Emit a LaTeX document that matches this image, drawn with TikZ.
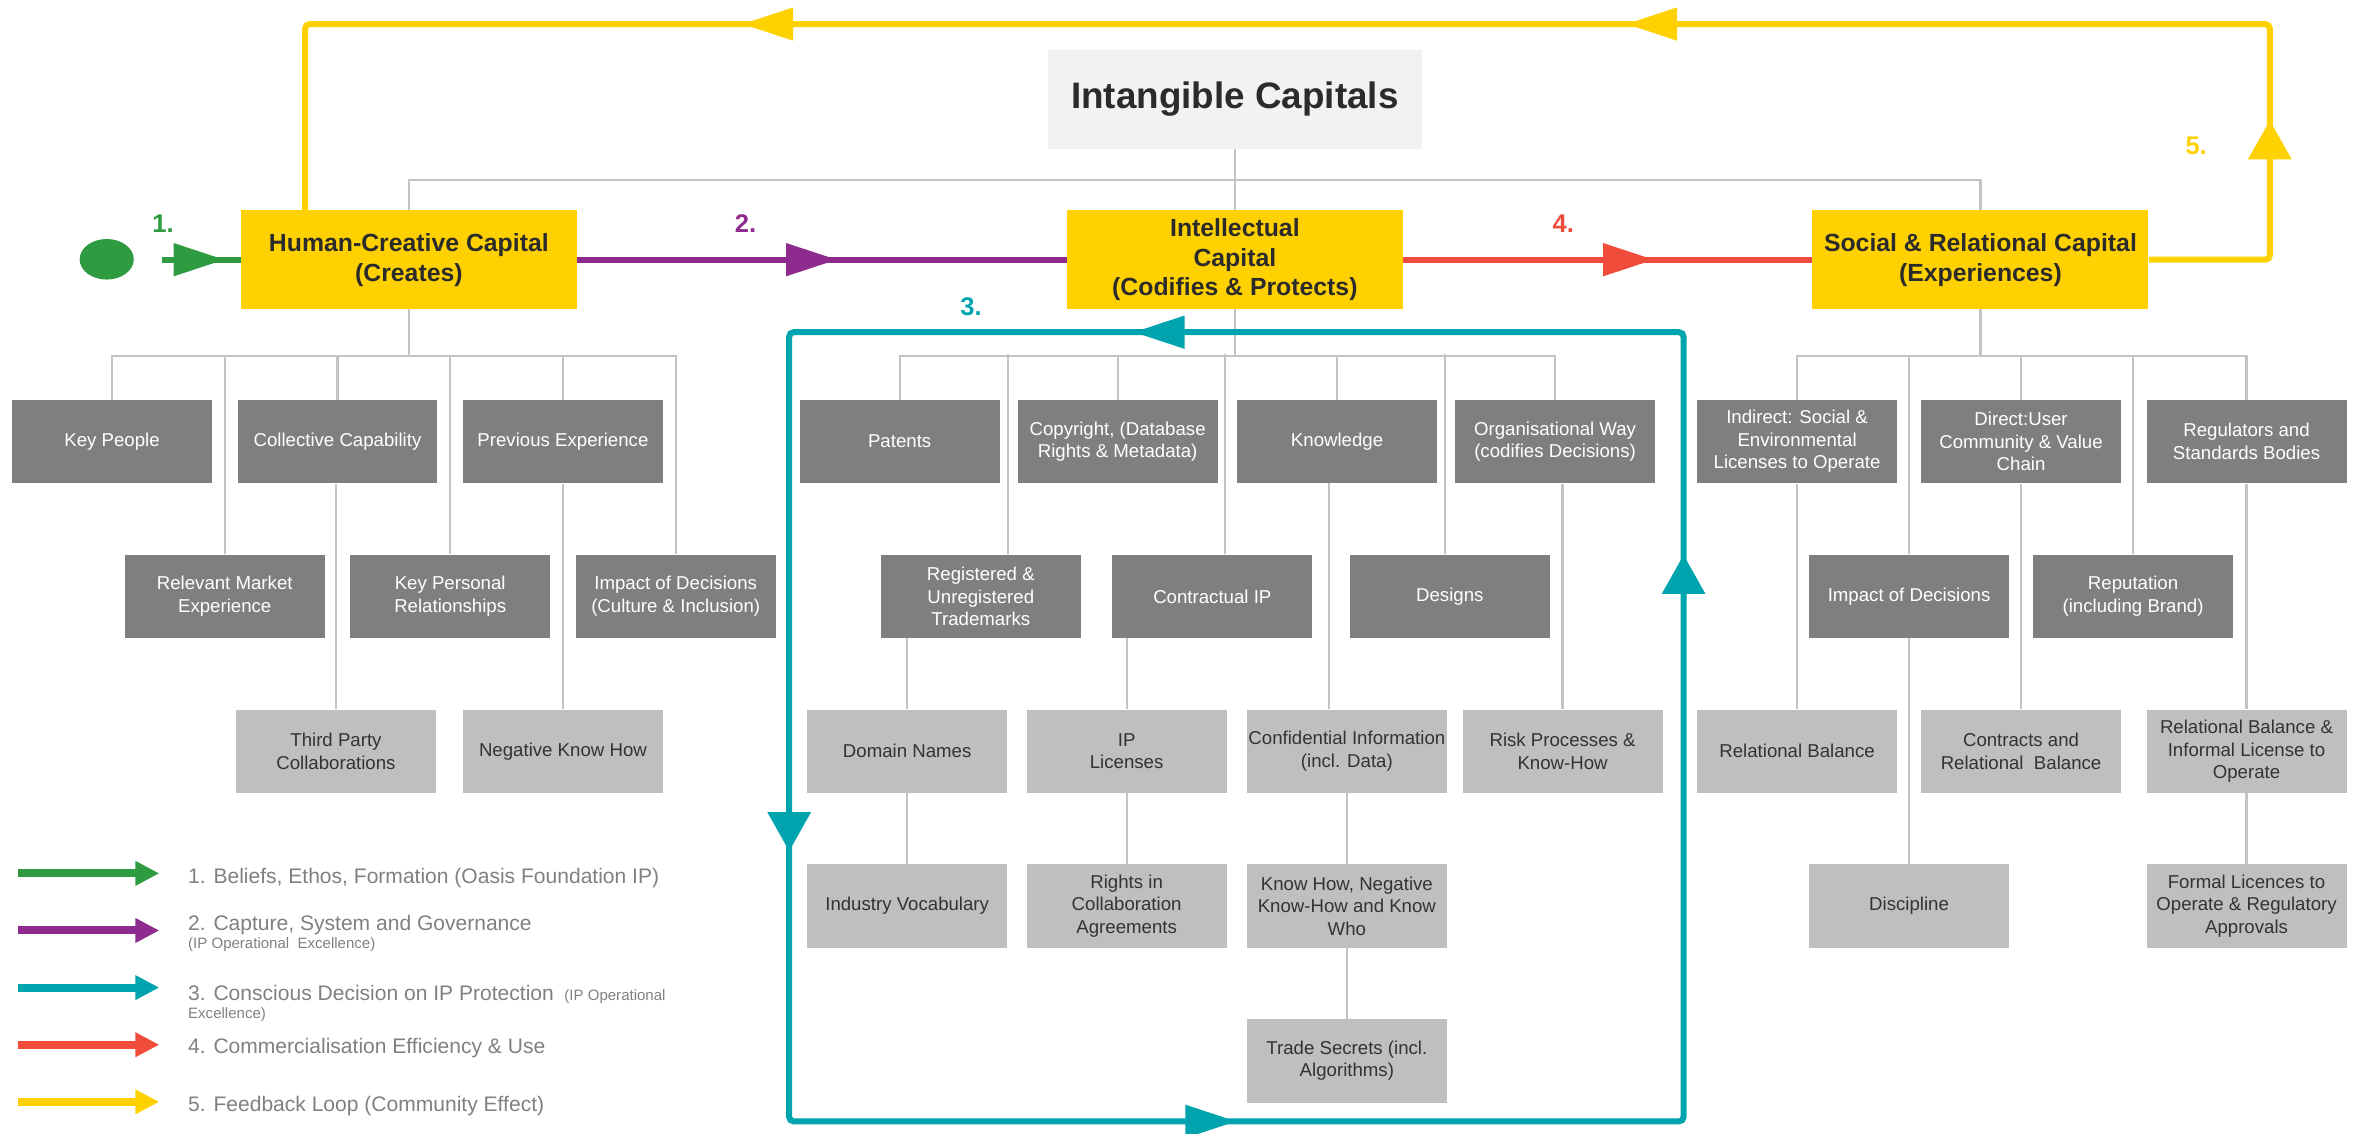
\documentclass[tikz,border=0pt]{standalone}
\usepackage{fontspec}
\setmainfont{Liberation Sans}
\usetikzlibrary{arrows.meta,decorations.markings,shapes.geometric}
\definecolor{yel}{HTML}{FFD100}
\definecolor{grn}{HTML}{2E9B41}
\definecolor{pur}{HTML}{8E2B8E}
\definecolor{tea}{HTML}{00A4AE}
\definecolor{rdd}{HTML}{EF4C3B}
\definecolor{dbox}{HTML}{7F7F7F}
\definecolor{lbox}{HTML}{BFBFBF}
\definecolor{conn}{HTML}{C4C4C4}
\definecolor{dtxt}{HTML}{2B2B2B}
\definecolor{ltxt}{HTML}{333333}
\definecolor{legtxt}{HTML}{808080}
\definecolor{titlebg}{HTML}{F2F2F2}
\tikzset{
  HT/.tip={Triangle[length=34pt,width=21pt]},
  VT/.tip={Triangle[length=26pt,width=28pt]},
  LT/.tip={Triangle[length=16pt,width=15.5pt]},
  darkbox/.style={fill=dbox, text=white, minimum width=133pt, minimum height=55.5pt, inner sep=0pt, align=center, font=\fontsize{12.4}{15}\selectfont},
  lightbox/.style={darkbox, fill=lbox, text=ltxt},
  capbox/.style={fill=yel, text=dtxt, minimum width=223.5pt, minimum height=65.5pt, inner sep=0pt, align=center, font=\bfseries\fontsize{16.5}{20}\selectfont},
  tlink/.style={draw=conn, line width=1.5pt},
  flowline/.style={line width=4pt, rounded corners=3pt},
  numlabel/.style={font=\bfseries\fontsize{17}{17}\selectfont, inner sep=0pt},
  legendtext/.style={text=legtxt, inner sep=0pt, align=left, font=\fontsize{14}{12}\selectfont},
  legarrow/.style={line width=5.3pt, -{LT}},
}
\begin{document}
\begin{tikzpicture}[x=1pt,y=1pt]
\useasboundingbox (0,0) rectangle (1568,-754);

% title and capitals
\node[fill=titlebg, text=dtxt, minimum width=249pt, minimum height=66pt, inner sep=0pt, font=\bfseries\fontsize{24.5}{28}\selectfont] (title) at (821.5,-66) {Intangible Capitals};
\node[capbox] (hc) at (272,-172.75) {Human-Creative Capital\\(Creates)};
\node[capbox, font=\bfseries\fontsize{16.5}{19.5}\selectfont] (ic) at (821.5,-172.75) {Intellectual\\Capital\\(Codifies \& Protects)};
\node[capbox] (sc) at (1317.5,-172.75) {Social \& Relational Capital\\(Experiences)};

% human children
\node[darkbox] (kp) at (74.5,-293.75) {Key People};
\node[darkbox] (cc) at (224.5,-293.75) {Collective Capability};
\node[darkbox] (pe) at (374.5,-293.75) {Previous Experience};
\node[darkbox] (rm) at (149.5,-396.75) {Relevant Market\\Experience};
\node[darkbox] (kr) at (299.5,-396.75) {Key Personal\\Relationships};
\node[darkbox] (id) at (449.5,-396.75) {Impact of Decisions\\(Culture \& Inclusion)};
\node[lightbox] (tp) at (223.5,-499.75) {Third Party\\Collaborations};
\node[lightbox] (nk) at (374.5,-499.75) {Negative Know How};

% intellectual children
\node[darkbox] (pat) at (598.5,-293.75) {Patents};
\node[darkbox] (cop) at (743.5,-293.75) {Copyright, (Database\\Rights \& Metadata)};
\node[darkbox] (kno) at (889.5,-293.75) {Knowledge};
\node[darkbox] (org) at (1034.5,-293.75) {Organisational Way\\(codifies Decisions)};
\node[darkbox] (reg) at (652.5,-396.75) {Registered \&\\Unregistered\\Trademarks};
\node[darkbox] (con) at (806.5,-396.75) {Contractual IP};
\node[darkbox] (des) at (964.5,-396.75) {Designs};
\node[lightbox] (dom) at (603.5,-499.75) {Domain Names};
\node[lightbox] (ipl) at (749.5,-499.75) {IP\\Licenses};
\node[lightbox] (cfi) at (896,-499.75) {Confidential Information\\(incl. Data)};
\node[lightbox] (rsk) at (1039.5,-499.75) {Risk Processes \&\\Know-How};
\node[lightbox] (ind) at (603.5,-602.75) {Industry Vocabulary};
\node[lightbox] (ric) at (749.5,-602.75) {Rights in\\Collaboration\\Agreements};
\node[lightbox] (kh) at (896,-602.75) {Know How, Negative\\Know-How and Know\\Who};
\node[lightbox] (ts) at (896,-705.75) {Trade Secrets (incl.\\Algorithms)};

% social children
\node[darkbox] (isl) at (1195.5,-293.75) {Indirect: Social \&\\Environmental\\Licenses to Operate};
\node[darkbox] (dir) at (1344.5,-293.75) {Direct:User\\Community \& Value\\Chain};
\node[darkbox] (rgb) at (1494.5,-293.75) {Regulators and\\Standards Bodies};
\node[darkbox] (imp) at (1270,-396.75) {Impact of Decisions};
\node[darkbox] (rep) at (1419,-396.75) {Reputation\\(including Brand)};
\node[lightbox] (rb) at (1195.5,-499.75) {Relational Balance};
\node[lightbox] (crb) at (1344.5,-499.75) {Contracts and\\Relational\ \ Balance};
\node[lightbox] (rbi) at (1494.5,-499.75) {Relational Balance \&\\Informal License to\\Operate};
\node[lightbox] (dis) at (1270,-602.75) {Discipline};
\node[lightbox] (fl) at (1494.5,-602.75) {Formal Licences to\\Operate \& Regulatory\\Approvals};

% top tree
\coordinate (tb) at (821.5,-119.5);
\draw[tlink] (title.south) -- (ic.north);
\draw[tlink] (hc.north) |- (tb) -| (sc.north);

% human tree
\draw[tlink] (hc.south) -- ++(0,-31) coordinate (hb);
\draw[tlink] (kp.north) |- (id.north |- hb) -- (id.north);
\foreach \n in {rm,cc,kr,pe} \draw[tlink] (\n.north) -- (\n.north |- hb);
\draw[tlink] (tp.north) -- (tp.north |- cc.south);
\draw[tlink] (nk.north) -- (nk.north |- pe.south);

% intellectual tree
\draw[tlink] (ic.south) -- ++(0,-31) coordinate (ib);
\draw[tlink] (pat.north) |- (org.north |- ib) -- (org.north);
\foreach \n in {cop,kno} \draw[tlink] (\n.north) -- (\n.north |- ib);
\draw[tlink] ([xshift=18pt]reg.north) -- ++(0,133);
\draw[tlink] ([xshift=8.5pt]con.north) -- ++(0,133);
\draw[tlink] ([xshift=-3pt]des.north) -- ++(0,133);
\draw[tlink] (dom.north) -- (dom.north |- reg.south);
\draw[tlink] (ipl.north) -- (ipl.north |- con.south);
\draw[tlink] ([xshift=-12pt]cfi.north) -- ++(0,150.5);
\draw[tlink] (rsk.north) -- (rsk.north |- org.south);
\draw[tlink] (ind.north) -- (ind.north |- dom.south);
\draw[tlink] (ric.north) -- (ric.north |- ipl.south);
\draw[tlink] (kh.north) -- (kh.north |- cfi.south);
\draw[tlink] (ts.north) -- (ts.north |- kh.south);

% social tree
\draw[tlink] (sc.south) -- ++(0,-31) coordinate (sb);
\draw[tlink] (isl.north) |- (rgb.north |- sb) -- (rgb.north);
\foreach \n in {imp,dir,rep} \draw[tlink] (\n.north) -- (\n.north |- sb);
\draw[tlink] (rb.north) -- (rb.north |- isl.south);
\draw[tlink] (crb.north) -- (crb.north |- dir.south);
\draw[tlink] (rbi.north) -- (rbi.north |- rgb.south);
\draw[tlink] (dis.north) -- (dis.north |- imp.south);
\draw[tlink] (fl.north) -- (fl.north |- rbi.south);

% flows
\node[ellipse, fill=grn, minimum width=36pt, minimum height=27pt, inner sep=0pt] (dot) at (71,-172.5) {};
\coordinate (gs) at (108,-172.75);
\draw[flowline, grn, postaction={decorate}, decoration={markings, mark=at position 41.5pt with {\arrow{HT}}}] (gs) -- (hc.west);
\draw[flowline, pur, postaction={decorate}, decoration={markings, mark=at position 173pt with {\arrow{HT}}}] (hc.east) -- (ic.west);
\draw[flowline, rdd, postaction={decorate}, decoration={markings, mark=at position 167pt with {\arrow{HT}}}] (ic.east) -- (sc.west);

\coordinate (yr) at (1510,-172.75);
\coordinate (ytr) at (1510,-16);
\coordinate (ytl) at (203,-16);
\draw[flowline, yel, postaction={decorate}, decoration={markings,
   mark=at position 172pt with {\arrow{VT}},
   mark=at position 663pt with {\arrow{HT}},
   mark=at position 1251pt with {\arrow{HT}}}]
   (sc.east) -- (yr) -- (ytr) -- (ytl) -- ([xshift=-69pt]hc.north);

\coordinate (t1) at (1120,-221);
\coordinate (t2) at (525,-221);
\coordinate (t3) at (525,-746);
\coordinate (t4) at (1120,-746);
\draw[flowline, tea, postaction={decorate}, decoration={markings,
   mark=at position 363pt with {\arrow{HT}},
   mark=at position 936pt with {\arrow{VT}},
   mark=at position 1412pt with {\arrow{HT}},
   mark=at position 2085pt with {\arrow{VT}}}]
   (t1) -- (t2) -- (t3) -- (t4) -- cycle;

% numbers
\node[numlabel, text=grn] (n1) at (108.5,-149) {1.};
\node[numlabel, text=pur] (n2) at (496,-149) {2.};
\node[numlabel, text=tea] (n3) at (646,-204) {3.};
\node[numlabel, text=rdd] (n4) at (1040,-149) {4.};
\node[numlabel, text=yel] (n5) at (1461,-97) {5.};

% legend
\foreach \i/\y/\c in {1/581/grn,2/619/pur,3/657/tea,4/695/rdd,5/733/yel}{
  \coordinate (la\i) at (12,-\y);
  \coordinate (lb\i) at (106,-\y);
  \draw[legarrow, \c] (la\i) -- (lb\i);
}
\node[legendtext, anchor=west] (lt1) at (125,-584) {1. Beliefs, Ethos, Formation (Oasis Foundation IP)};
\node[legendtext, anchor=north west] (lt2) at (125,-608.5) {2. Capture, System and Governance\\{\fontsize{10}{12}\selectfont(IP Operational\ \ Excellence)}};
\node[legendtext, anchor=north west] (lt3) at (125,-655) {3. Conscious Decision on IP Protection\hspace{7pt}{\fontsize{10}{12}\selectfont(IP Operational}\\{\fontsize{10}{12}\selectfont Excellence)}};
\node[legendtext, anchor=west] (lt4) at (125,-697.5) {4. Commercialisation Efficiency \& Use};
\node[legendtext, anchor=west] (lt5) at (125,-735.5) {5. Feedback Loop (Community Effect)};
\end{tikzpicture}
\end{document}
